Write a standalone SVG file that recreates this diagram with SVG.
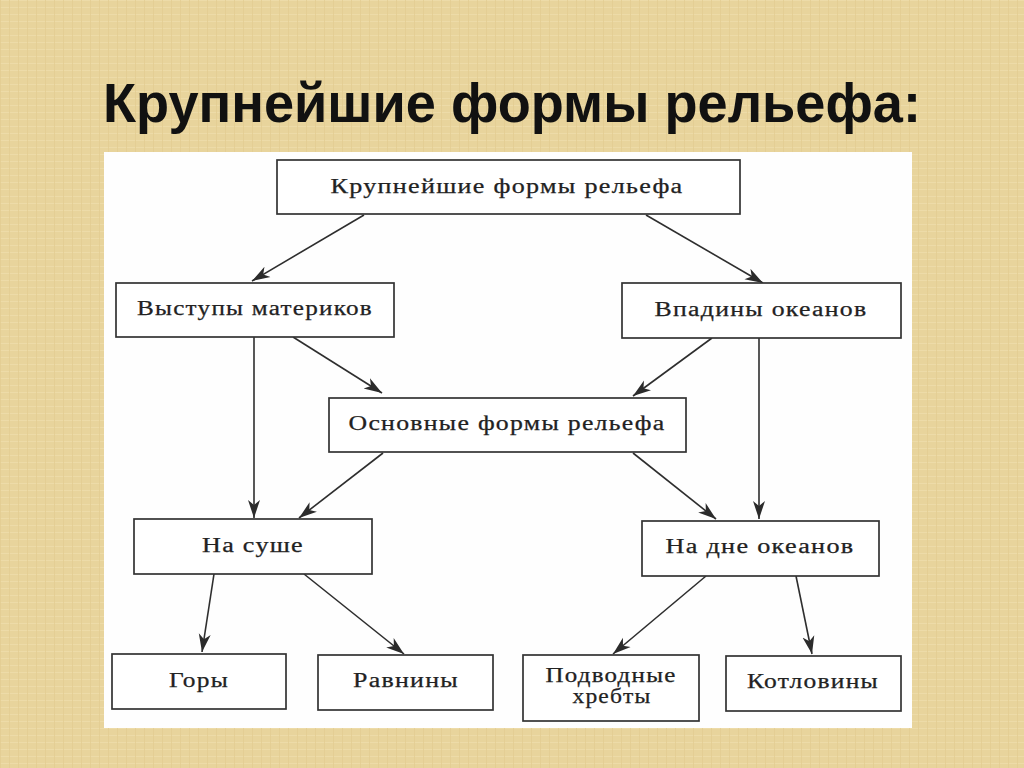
<svg xmlns="http://www.w3.org/2000/svg" width="1024" height="768" viewBox="0 0 1024 768">
<defs>
<pattern id="weave" width="9" height="7" patternUnits="userSpaceOnUse">
<rect width="9" height="7" fill="#e8d49c"/>
<path d="M0,0.5 H9" stroke="#eddba8" stroke-width="1"/>
<path d="M0.5,0 V7" stroke="#e3cd92" stroke-width="0.8"/>
</pattern>
<marker id="arr" markerWidth="20" markerHeight="14" refX="18" refY="7" orient="auto" markerUnits="userSpaceOnUse">
<path d="M18,7 L0,1 L5,7 L0,13 Z" fill="#2b2b2b"/>
</marker>
<style>
.box{fill:#ffffff;stroke:#333333;stroke-width:1.7}
.lbl{font-family:"Liberation Serif","DejaVu Serif",serif;font-size:20px;fill:#222222;text-anchor:middle;letter-spacing:1px;stroke:#222222;stroke-width:0.25}
.con{stroke:#2e2e2e;stroke-width:1.6;fill:none;marker-end:url(#arr)}
.title{font-family:"Liberation Sans","Open Sans",sans-serif;font-weight:bold;font-size:56px;fill:#111111}
</style>
</defs>
<rect width="1024" height="768" fill="url(#weave)"/>
<text class="title" x="103" y="122" textLength="818" lengthAdjust="spacingAndGlyphs">Крупнейшие формы рельефа:</text>
<rect x="104" y="152" width="808" height="576" fill="#fefefe"/>

<g id="connectors">
<line class="con" x1="364" y1="215" x2="252" y2="281"/>
<line class="con" x1="646" y1="215" x2="763" y2="283"/>
<line class="con" x1="293" y1="337" x2="382" y2="393"/>
<line class="con" x1="712" y1="338" x2="633" y2="396"/>
<line class="con" x1="254" y1="337" x2="254" y2="518"/>
<line class="con" x1="759" y1="338" x2="759" y2="519"/>
<line class="con" x1="383" y1="453" x2="299" y2="518"/>
<line class="con" x1="633" y1="453" x2="716" y2="519"/>
<line class="con" x1="214" y1="574" x2="202" y2="652"/>
<line class="con" x1="304" y1="574" x2="404" y2="654"/>
<line class="con" x1="706" y1="576" x2="613" y2="654"/>
<line class="con" x1="796" y1="576" x2="812" y2="654"/>
</g>

<g id="n-top">
<rect class="box" x="277" y="160" width="463" height="54"/>
<text class="lbl" x="507" y="193" textLength="353" lengthAdjust="spacingAndGlyphs">Крупнейшие  формы  рельефа</text>
</g>
<g id="n-vystupy">
<rect class="box" x="116" y="283" width="278" height="54"/>
<text class="lbl" x="255" y="315" textLength="236" lengthAdjust="spacingAndGlyphs">Выступы  материков</text>
</g>
<g id="n-vpadiny">
<rect class="box" x="622" y="283" width="279" height="55"/>
<text class="lbl" x="761" y="316" textLength="213" lengthAdjust="spacingAndGlyphs">Впадины  океанов</text>
</g>
<g id="n-osnovnye">
<rect class="box" x="329" y="398" width="357" height="54"/>
<text class="lbl" x="507" y="430" textLength="317" lengthAdjust="spacingAndGlyphs">Основные  формы  рельефа</text>
</g>
<g id="n-sushe">
<rect class="box" x="134" y="519" width="238" height="55"/>
<text class="lbl" x="253" y="552" textLength="102" lengthAdjust="spacingAndGlyphs">На  суше</text>
</g>
<g id="n-dne">
<rect class="box" x="642" y="521" width="237" height="55"/>
<text class="lbl" x="760" y="553" textLength="189" lengthAdjust="spacingAndGlyphs">На  дне  океанов</text>
</g>
<g id="n-gory">
<rect class="box" x="112" y="654" width="174" height="55"/>
<text class="lbl" x="199" y="687" textLength="60" lengthAdjust="spacingAndGlyphs">Горы</text>
</g>
<g id="n-ravniny">
<rect class="box" x="318" y="655" width="175" height="55"/>
<text class="lbl" x="406" y="687" textLength="106" lengthAdjust="spacingAndGlyphs">Равнины</text>
</g>
<g id="n-hrebty">
<rect class="box" x="523" y="655" width="176" height="66"/>
<text class="lbl" x="611" y="682" textLength="131" lengthAdjust="spacingAndGlyphs">Подводные</text>
<text class="lbl" x="612" y="703" textLength="79" lengthAdjust="spacingAndGlyphs">хребты</text>
</g>
<g id="n-kotloviny">
<rect class="box" x="726" y="656" width="175" height="55"/>
<text class="lbl" x="813" y="688" textLength="132" lengthAdjust="spacingAndGlyphs">Котловины</text>
</g>
</svg>
